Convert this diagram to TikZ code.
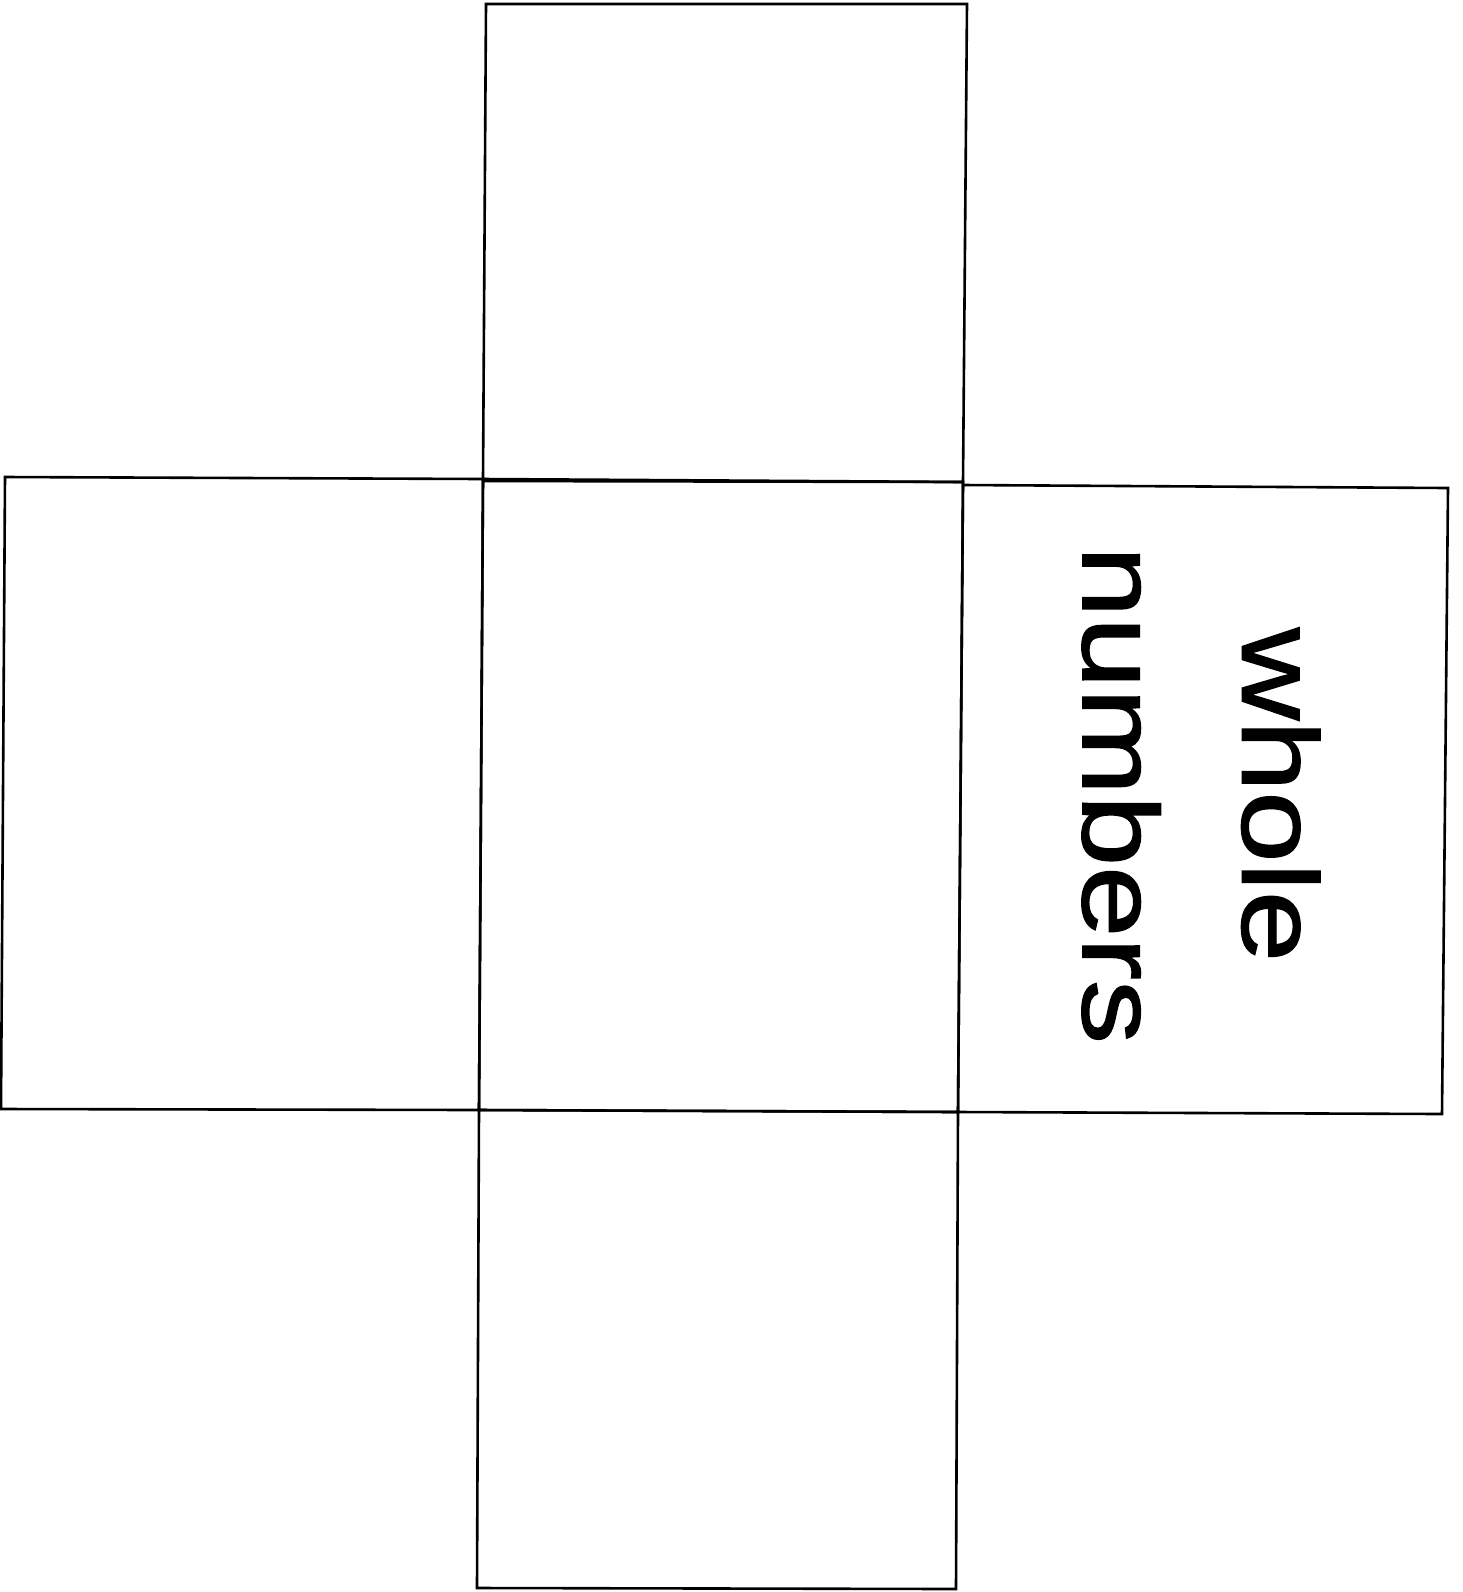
\documentclass[tikz,border=0pt]{standalone}
\usepackage{fontspec}
\setmainfont{Liberation Sans}
\newfontfamily\labelfont[FakeBold=1.2]{Liberation Sans}
\begin{document}
\begin{tikzpicture}[x=0.5pt,y=-0.5pt,
  face/.style={draw=black,line width=1.3pt,line join=miter},
  lbl/.style={font=\labelfont\fontsize{64pt}{95pt}\selectfont,align=center,rotate=-90,yscale=0.84,inner sep=0pt}]
\useasboundingbox[fill=white] (0,0) rectangle (1463,1592);
% top
\draw[face] (486,4) -- (967,4) -- (963,482) -- (483,479) -- cycle;
% left
\draw[face] (5,477) -- (483,479) -- (479,1110) -- (1,1109) -- cycle;
% centre
\draw[face] (483,481) -- (963,482) -- (958,1112) -- (479,1110) -- cycle;
% right
\draw[face] (963,485) -- (1448,488) -- (1442,1114) -- (958,1112) -- cycle;
% bottom
\draw[face] (479,1110) -- (958,1112) -- (956,1589) -- (477,1588) -- cycle;
\node[lbl] (txt) at (1201,795) {whole\\numbers};
\end{tikzpicture}
\end{document}
